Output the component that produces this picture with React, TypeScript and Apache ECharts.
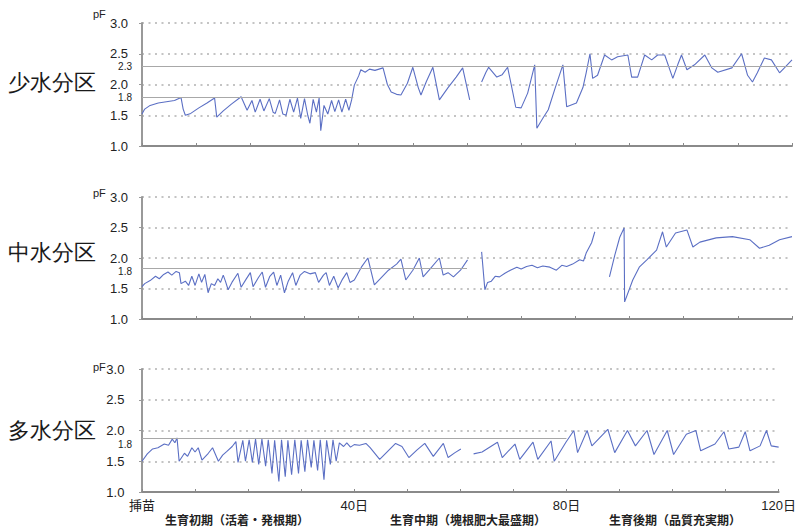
import React, { useEffect, useRef } from 'react';
import * as echarts from 'echarts';

// ---- data (day after planting, pF) ----
const panelNames = ['少水分区', '中水分区', '多水分区'];
const phaseLabels = ['生育初期（活着・発根期）', '生育中期（塊根肥大最盛期）', '生育後期（品質充実期）'];
const xTickLabels: Record<number, string> = { 0: '挿苗', 40: '40日', 80: '80日', 120: '120日' };
const yTicks = [1.0, 1.5, 2.0, 2.5, 3.0];

const topSeg1 = [
  [0, 1.52], [0.5, 1.6], [1.5, 1.66], [3, 1.7], [4.5, 1.72], [6, 1.74], [7.2, 1.79], [7.6, 1.6], [8, 1.5], [9, 1.53],
  [10.5, 1.62], [12, 1.7], [13.4, 1.78], [13.8, 1.47], [15, 1.57], [16.5, 1.68], [18.3, 1.8],
  [19.4, 1.58], [20.3, 1.74], [20.9, 1.55], [21.8, 1.76], [22.5, 1.57], [23.5, 1.77], [24.2, 1.55], [24.6, 1.53],
  [25.4, 1.75], [26, 1.52], [26.6, 1.5], [27.3, 1.76], [28, 1.55], [28.7, 1.78], [29.3, 1.45], [30, 1.77],
  [30.6, 1.5], [31, 1.37], [31.6, 1.76], [32.2, 1.55], [32.7, 1.78], [33, 1.25], [33.6, 1.66], [34.3, 1.52],
  [35, 1.74], [35.6, 1.56], [36.3, 1.75], [36.9, 1.55], [37.6, 1.76], [38.2, 1.58], [38.7, 1.75],
  [39.2, 1.99], [40, 2.14], [40.4, 2.24], [41.2, 2.2], [42, 2.25], [43, 2.23], [44.5, 2.27], [45.3, 2.0],
  [46, 1.88], [47, 1.84], [47.8, 1.83], [49, 2.02], [50, 2.28], [51, 1.95], [51.5, 1.83], [52.5, 2.05],
  [53.7, 2.28], [54.9, 1.75], [56.5, 1.95], [58, 2.12], [59.2, 2.27], [60.5, 1.75],
];
const topSeg2 = [
  [62.7, 2.04], [63.5, 2.2], [64, 2.28], [65.5, 2.12], [66.5, 2.16], [67.5, 2.28], [68.5, 1.85], [69, 1.63],
  [70, 1.62], [71.2, 1.86], [72.5, 2.32], [72.9, 1.29], [74, 1.45], [75, 1.59], [76.3, 1.95], [77.7, 2.32],
  [78.4, 1.64], [79, 1.66], [80.2, 1.7], [81.4, 1.95], [82, 2.19], [82.7, 2.5], [83.2, 2.1], [84.1, 2.15],
  [85.4, 2.48], [86.7, 2.4], [87.8, 2.45], [89.7, 2.48], [90.4, 2.12], [91.5, 2.12], [92.8, 2.48], [94.1, 2.4],
  [95.2, 2.48], [96.5, 2.48], [98, 2.1], [98.9, 2.32], [99.6, 2.48], [100.6, 2.24], [102, 2.32], [103.9, 2.48],
  [105.2, 2.27], [106.3, 2.2], [108.9, 2.27], [110.7, 2.5], [111.8, 2.15], [112.7, 2.04], [113.6, 2.19],
  [114.9, 2.43], [116.2, 2.4], [117.7, 2.19], [118.6, 2.27], [120, 2.4],
];

const midSeg1 = [
  [0, 1.53], [0.5, 1.58], [1.5, 1.63], [2.5, 1.7], [3.2, 1.66], [4, 1.73], [4.8, 1.77], [5.5, 1.72], [6.3, 1.78],
  [6.9, 1.76], [7.2, 1.58], [8, 1.62], [8.6, 1.55], [9.2, 1.7], [9.8, 1.55], [10.5, 1.74], [11, 1.6], [11.6, 1.73],
  [12.2, 1.43], [12.8, 1.58], [13.4, 1.55], [14, 1.66], [14.5, 1.6], [15, 1.72], [15.4, 1.62], [15.9, 1.48],
  [16.6, 1.6], [17.7, 1.75], [18.3, 1.52], [19.2, 1.65], [20, 1.76], [20.5, 1.53], [21.5, 1.68], [22.2, 1.77],
  [22.8, 1.52], [23.6, 1.7], [24.3, 1.77], [24.9, 1.55], [25.6, 1.72], [26.3, 1.43], [27, 1.62], [27.8, 1.76],
  [28.4, 1.55], [29.2, 1.72], [30, 1.78], [31, 1.74], [32, 1.76], [32.6, 1.6], [33.5, 1.72], [34, 1.76],
  [34.6, 1.55], [35.4, 1.7], [36.2, 1.51], [37, 1.65], [37.8, 1.76], [38.4, 1.6], [39.2, 1.64], [40.5, 1.85],
  [41.7, 2.0], [42.9, 1.56], [44, 1.66], [45.5, 1.8], [47, 1.9], [47.8, 1.98], [48.7, 1.64], [50, 1.8],
  [51.2, 2.0], [51.9, 1.69], [53, 1.8], [54.9, 2.0], [55.6, 1.72], [56.5, 1.76], [57.5, 1.69], [58.8, 1.8],
  [60.1, 1.97],
];
const midSeg2 = [
  [62.7, 2.1], [63.3, 1.48], [63.8, 1.6], [64.5, 1.62], [65.2, 1.7], [66, 1.69], [67, 1.75], [68, 1.8],
  [69.2, 1.85], [70, 1.82], [71, 1.86], [72, 1.88], [73, 1.84], [74, 1.87], [75.3, 1.85], [76.5, 1.8],
  [77.5, 1.88], [78.4, 1.86], [79.5, 1.9], [80.8, 1.97], [81.5, 1.95], [82, 2.08], [83, 2.25], [83.6, 2.43],
];
const midSeg3 = [
  [86.3, 1.69], [87.3, 2.05], [88.2, 2.34], [89, 2.49], [89.1, 1.28], [90.6, 1.64], [91.8, 1.85], [93.2, 1.97],
  [95, 2.13], [96.1, 2.43], [96.8, 2.18], [98.5, 2.41], [100.6, 2.46], [101.7, 2.18], [103, 2.26], [106, 2.33],
  [109, 2.35], [112.2, 2.3], [114, 2.16], [115.8, 2.21], [117.7, 2.3], [120, 2.35],
];

const lowSeg1 = [
  [0, 1.5], [1, 1.62], [2, 1.7], [3, 1.72], [4.2, 1.78], [5, 1.76], [5.7, 1.86], [6.2, 1.8], [6.6, 1.88], [7, 1.5],
  [8, 1.63], [8.6, 1.58], [9.4, 1.72], [10, 1.65], [10.6, 1.72], [11.3, 1.52], [12.5, 1.63], [13.3, 1.72],
  [14.4, 1.5], [15.2, 1.6], [16, 1.66], [17, 1.74], [17.7, 1.82], [18.1, 1.48],
  [19, 1.84], [19.5, 1.5], [20.2, 1.85], [20.8, 1.48], [21.4, 1.86], [22, 1.45], [22.6, 1.86], [23.3, 1.42],
  [23.8, 1.85], [24.5, 1.3], [25, 1.84], [25.8, 1.17], [26.3, 1.85], [27, 1.25], [27.5, 1.84], [28.2, 1.28],
  [28.8, 1.85], [29.5, 1.3], [30, 1.84], [30.7, 1.33], [31.2, 1.85], [31.9, 1.4], [32.4, 1.84], [33.1, 1.35],
  [33.6, 1.85], [34.3, 1.2], [34.8, 1.84], [35.5, 1.45], [36, 1.85], [36.6, 1.5], [37.2, 1.8], [38, 1.74],
  [38.6, 1.8], [39.3, 1.73], [40, 1.77], [41, 1.76], [42.2, 1.79], [43, 1.72], [44.8, 1.53], [46.3, 1.66],
  [47.8, 1.79], [49, 1.74], [50.3, 1.56], [51.8, 1.68], [53.3, 1.79], [54.9, 1.58], [56.8, 1.79], [57.7, 1.56],
  [59, 1.64], [60.1, 1.7],
];
const lowSeg2 = [
  [62.5, 1.62], [64.1, 1.65], [67, 1.81], [67.9, 1.56], [70.3, 1.78], [71.2, 1.53], [73.7, 1.81], [74.6, 1.53],
  [77.1, 1.83], [77.7, 1.5], [79.9, 1.81], [81.4, 2.0], [82.1, 1.64], [83.9, 2.0], [84.8, 1.75], [87.8, 2.02],
  [89.1, 1.64], [91.5, 2.0], [93, 1.75], [95.2, 2.0], [96.5, 1.61], [99, 2.0], [100.2, 1.61], [102.6, 1.94],
  [104.4, 2.0], [105.3, 1.67], [108, 1.78], [109.7, 1.98], [110.6, 1.7], [112.5, 1.73], [113.7, 1.98],
  [114.6, 1.67], [116.5, 1.75], [117.7, 2.0], [118.6, 1.75], [120, 1.73],
];

// threshold lines: [pF, fromDay, toDay, label]
const topThresholds: [number, number, number, string][] = [[2.3, 0, 120, '2.3'], [1.8, 0, 39, '1.8']];
const midThresholds: [number, number, number, string][] = [[1.83, 0, 60, '1.8']];
const lowThresholds: [number, number, number, string][] = [[1.88, 0, 80, '1.8']];

const GAP = '-';
const joinSegs = (...segs: number[][][]) => {
  const out: any[] = [];
  segs.forEach((s, i) => {
    if (i > 0) out.push([(segs[i - 1][segs[i - 1].length - 1][0] + s[0][0]) / 2, GAP]);
    s.forEach((p) => out.push(p));
  });
  return out;
};

const panelData = [joinSegs(topSeg1, topSeg2), joinSegs(midSeg1, midSeg2, midSeg3), joinSegs(lowSeg1, lowSeg2)];
const panelThresholds = [topThresholds, midThresholds, lowThresholds];

// ---- layout ----
const gridTops = [23, 197, 369];
const gridHeights = [123, 122, 123];
const labelOffsets = [[0, 1], [3], [7]];
const nameY = [82, 252, 430];
const pfY = [14, 193, 367];
const phaseX = [237, 468, 675];

export default function App() {
  const ref = useRef<HTMLDivElement>(null);
  useEffect(() => {
    if (!ref.current) return;
    const chart = echarts.init(ref.current, null, { renderer: 'svg' });
    const lineColor = '#5b6fc4';
    const grid = gridTops.map((t, i) => ({ left: 142, right: 7, top: t, height: gridHeights[i] }));
    const xAxis = gridTops.map((_, i) => ({
      type: 'value',
      gridIndex: i,
      min: 0,
      max: 120,
      interval: 10,
      axisLine: { show: true, lineStyle: { color: '#8a8a8a', width: 2 } },
      axisTick: { show: true, inside: true, length: 3, lineStyle: { color: '#8a8a8a', width: 1 } },
      splitLine: { show: false },
      axisLabel: {
        show: i === 2,
        margin: 7,
        fontSize: 13,
        color: '#222',
        fontFamily: 'Liberation Sans, Noto Sans CJK JP, sans-serif',
        formatter: (v: number) => xTickLabels[Math.round(v)] ?? '',
      },
    }));
    const yAxis = gridTops.map((_, i) => ({
      type: 'value',
      gridIndex: i,
      min: 1,
      max: 3,
      interval: 0.5,
      axisLine: { show: true, lineStyle: { color: '#999', width: 2 } },
      axisTick: { show: true, length: 3, lineStyle: { color: '#999' } },
      axisLabel: { show: false },
      splitLine: { show: true, lineStyle: { color: '#c4c4c4', width: 2, type: [2, 4.5] } },
    }));
    const series = panelData.map((data, i) => ({
      type: 'line',
      xAxisIndex: i,
      yAxisIndex: i,
      data,
      showSymbol: false,
      connectNulls: false,
      lineStyle: { color: lineColor, width: 1.1 },
      itemStyle: { color: lineColor },
      z: 3,
      markLine: {
        silent: true,
        symbol: 'none',
        lineStyle: { color: '#a8a8a8', width: 1, type: 'solid' },
        label: { show: true, position: 'start', distance: 10, fontSize: 10, color: '#222', fontFamily: 'Liberation Sans, sans-serif', formatter: '{b}' },
        data: panelThresholds[i].map((th, k) => [
          { coord: [th[1], th[0]], name: th[3], label: { offset: [0, labelOffsets[i][k] ?? 0] } },
          { coord: [th[2], th[0]] },
        ]),
      },
    }));
    chart.setOption({
      animation: false,
      backgroundColor: '#fff',
      grid,
      xAxis,
      yAxis,
      series,
    });

    // y tick labels and panel texts, placed through the axes' own scales
    const graphic: any[] = [];
    gridTops.forEach((_, i) => {
      yTicks.forEach((t, k) => {
        const p = chart.convertToPixel({ xAxisIndex: i, yAxisIndex: i } as any, [0, t]) as number[];
        graphic.push({
          type: 'text', id: `ytick-${i}-${k}`, z: 100, x: p[0] - 14, y: p[1],
          style: { text: t.toFixed(1) + (i === 2 ? ' ' : ''), fontSize: 13, fill: '#222', fontFamily: 'Liberation Sans, sans-serif', align: 'right', verticalAlign: 'middle' },
        });
      });
    });
    panelNames.forEach((n, i) => {
      graphic.push({
        type: 'text', id: `name-${i}`, x: 8, y: nameY[i],
        style: { text: n, fontSize: 22, fill: '#1a1a1a', fontFamily: 'serif', verticalAlign: 'middle' },
      });
      graphic.push({
        type: 'text', id: `pf-${i}`, x: 93, y: pfY[i], style: { text: 'pF', fontSize: 11, fill: '#222', fontFamily: 'Liberation Sans, sans-serif', verticalAlign: 'middle' },
      });
    });
    phaseLabels.forEach((p, i) => {
      graphic.push({
        type: 'text', id: `phase-${i}`, x: phaseX[i], y: 519,
        style: { text: p, fontSize: 12, fontWeight: 'bold', fill: '#222', align: 'center', verticalAlign: 'middle', fontFamily: 'Noto Sans CJK JP, sans-serif' },
      });
    });
    chart.setOption({ graphic });
    return () => chart.dispose();
  }, []);
  return <div ref={ref} style={{ position: 'fixed', left: 0, top: 0, width: 799, height: 528 }} />;
}
